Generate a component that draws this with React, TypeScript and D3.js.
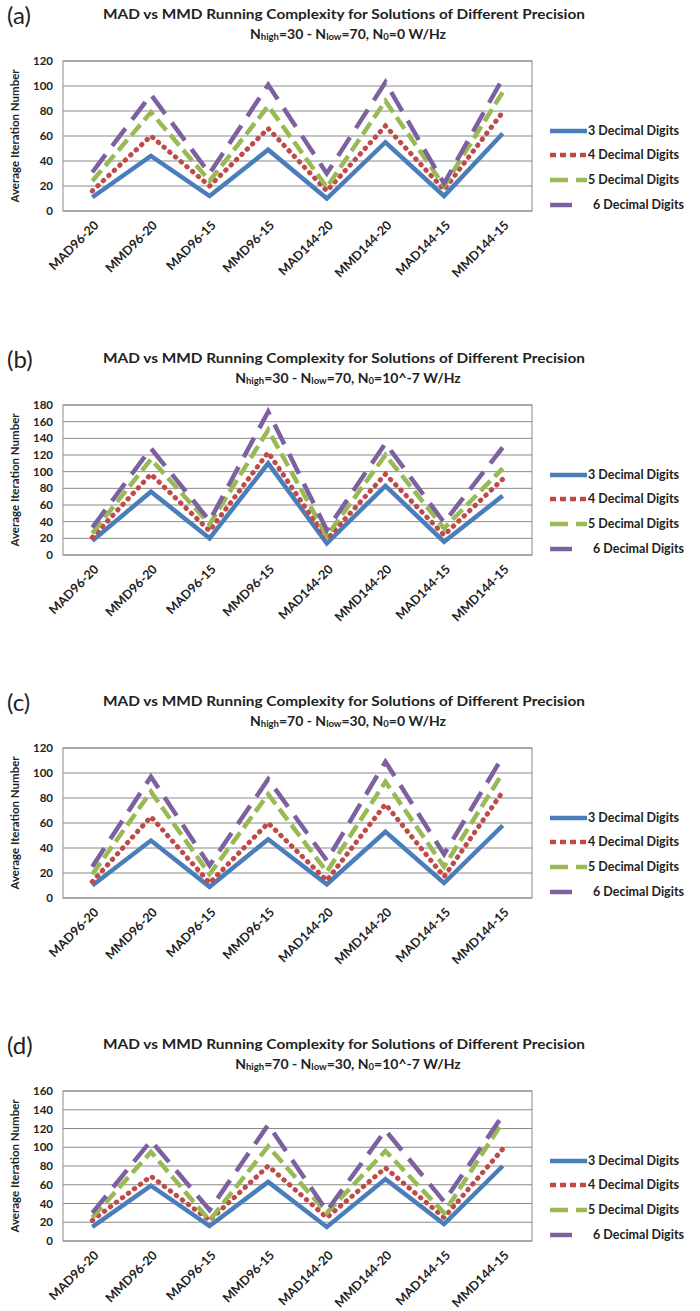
import React, { useRef, useEffect } from 'react';
import * as d3 from 'd3';

// x categories and legend names
const categories = ['MAD96-20', 'MMD96-20', 'MAD96-15', 'MMD96-15', 'MAD144-20', 'MMD144-20', 'MAD144-15', 'MMD144-15'];
const seriesNames = ['3 Decimal Digits', '4 Decimal Digits', '5 Decimal Digits', '6 Decimal Digits'];

// (a) Nhigh=30 - Nlow=70, N0=0
const a3 = [11, 44, 12, 49, 10, 55, 12, 62];
const a4 = [16, 60, 20, 66, 16, 68, 17, 79];
const a5 = [24, 79, 24, 84, 19, 88, 20, 95];
const a6 = [31, 93, 30, 101, 30, 103, 22, 106];

// (b) Nhigh=30 - Nlow=70, N0=10^-7
const b3 = [17, 76, 20, 110, 14, 83, 16, 71];
const b4 = [21, 97, 29, 123, 19, 97, 24, 91];
const b5 = [26, 115, 37, 150, 23, 120, 32, 104];
const b6 = [33, 128, 41, 172, 30, 134, 39, 129];

// (c) Nhigh=70 - Nlow=30, N0=0
const c3 = [10, 46, 9, 47, 11, 53, 12, 58];
const c4 = [13, 65, 12, 60, 14, 75, 17, 85];
const c5 = [19, 85, 19, 83, 21, 93, 25, 100];
const c6 = [25, 97, 26, 95, 30, 109, 35, 113];

// (d) Nhigh=70 - Nlow=30, N0=10^-7
const d3v = [15, 59, 16, 63, 15, 66, 18, 80];
const d4 = [22, 69, 22, 80, 25, 78, 25, 98];
const d5 = [25, 95, 22, 101, 30, 96, 30, 127];
const d6 = [30, 107, 33, 124, 32, 118, 42, 134];

const panelLetters = ['(a)', '(b)', '(c)', '(d)'];
const panelHigh = ['30', '30', '70', '70'];
const panelLow = ['70', '70', '30', '30'];
const panelN0 = ['0', '10^-7', '0', '10^-7'];
const panelMax = [120, 180, 120, 160];
const panelData = [[a3, a4, a5, a6], [b3, b4, b5, b6], [c3, c4, c5, c6], [d3v, d4, d5, d6]];

const colors = ['#4a7ebb', '#be4b48', '#98b954', '#7d60a0'];

const App = () => {
  const svgRef = useRef(null);

  useEffect(() => {
    const width = 700;
    const height = 1311;
    const panelTop = [0, 344, 687, 1030];
    const font = 'Lato, "Open Sans", sans-serif';

    const svg = d3.select(svgRef.current)
      .attr('width', width)
      .attr('height', height);

    svg.selectAll('*').remove();

    const lineStyles = [
      { dash: null, cap: 'butt', w: 4.5 },
      { dash: '0.5 7', cap: 'round', w: 5 },
      { dash: '14 6', cap: 'butt', w: 4.5 },
      { dash: '22 11', cap: 'butt', w: 4.5 }
    ];
    const legendDash = [null, '6 4', '18 8', '22 40'];

    panelData.forEach((series, p) => {
      const off = panelTop[p];
      const g = svg.append('g').attr('transform', `translate(0,${off})`);

      const x = d3.scalePoint()
        .domain(categories)
        .range([63, 532])
        .padding(0.5);

      const y = d3.scaleLinear()
        .domain([0, panelMax[p]])
        .range([211, 61]);

      // panel letter
      g.append('text')
        .attr('x', 7)
        .attr('y', 24)
        .attr('font-family', font)
        .attr('font-size', 24)
        .attr('fill', '#222')
        .text(panelLetters[p]);

      // title
      g.append('text')
        .attr('x', 344)
        .attr('y', 19)
        .attr('text-anchor', 'middle')
        .attr('font-family', font)
        .attr('font-weight', 'bold')
        .attr('font-size', 13.5)
        .attr('textLength', 482)
        .attr('lengthAdjust', 'spacingAndGlyphs')
        .attr('fill', '#222')
        .text('MAD vs MMD Running Complexity for Solutions of Different Precision');

      const sub = g.append('text')
        .attr('x', 348)
        .attr('y', 39)
        .attr('text-anchor', 'middle')
        .attr('font-family', font)
        .attr('font-weight', 'bold')
        .attr('font-size', 14)
        .attr('fill', '#222');
      sub.append('tspan').text('N');
      sub.append('tspan').attr('font-size', 9.5).attr('dy', 1).text('high');
      sub.append('tspan').attr('dy', -1).text(`=${panelHigh[p]} - N`);
      sub.append('tspan').attr('font-size', 9.5).attr('dy', 1).text('low');
      sub.append('tspan').attr('dy', -1).text(`=${panelLow[p]}, N`);
      sub.append('tspan').attr('font-size', 9.5).attr('dy', 1).text('0');
      sub.append('tspan').attr('dy', -1).text(`=${panelN0[p]} W/Hz`);

      // gridlines
      const ticks = d3.range(0, panelMax[p] + 1, 20);
      g.append('g')
        .selectAll('line')
        .data(ticks)
        .join('line')
        .attr('x1', 63)
        .attr('x2', 532)
        .attr('y1', d => y(d))
        .attr('y2', d => y(d))
        .attr('stroke', '#8a8a8a')
        .attr('stroke-width', 1);

      g.append('rect')
        .attr('x', 63)
        .attr('y', 61)
        .attr('width', 532 - 63)
        .attr('height', 150)
        .attr('fill', 'none')
        .attr('stroke', '#8a8a8a')
        .attr('stroke-width', 1);

      // y tick labels
      g.append('g')
        .selectAll('text')
        .data(ticks)
        .join('text')
        .attr('x', 53)
        .attr('y', d => y(d))
        .attr('dy', '0.35em')
        .attr('text-anchor', 'end')
        .attr('font-family', font)
        .attr('font-weight', 'bold')
        .attr('font-size', 11.5)
        .attr('fill', '#222')
        .text(d => d);

      // y axis title
      g.append('text')
        .attr('transform', `translate(19,136) rotate(-90)`)
        .attr('text-anchor', 'middle')
        .attr('font-family', font)
        .attr('font-weight', 'bold')
        .attr('font-size', 11.5)
        .attr('fill', '#222')
        .text('Average Iteration Number');

      // x labels
      g.append('g')
        .selectAll('text')
        .data(categories)
        .join('text')
        .attr('transform', d => `translate(${x(d) + 7},${226}) rotate(-45)`)
        .attr('text-anchor', 'end')
        .attr('font-family', font)
        .attr('font-weight', 'bold')
        .attr('font-size', 12.5)
        .attr('fill', '#222')
        .text(d => d);

      // lines
      const line = d3.line()
        .x((d, i) => x(categories[i]))
        .y(d => y(d));

      series.forEach((vals, s) => {
        g.append('path')
          .datum(vals)
          .attr('fill', 'none')
          .attr('stroke', colors[s])
          .attr('stroke-width', lineStyles[s].w)
          .attr('stroke-linecap', lineStyles[s].cap)
          .attr('stroke-linejoin', 'miter')
          .attr('stroke-dasharray', lineStyles[s].dash)
          .attr('d', line);
      });

      // legend
      const rows = [131, 155, 180, 205];
      seriesNames.forEach((name, s) => {
        g.append('line')
          .attr('x1', 550)
          .attr('x2', s === 3 ? 573 : 587)
          .attr('y1', rows[s])
          .attr('y2', rows[s])
          .attr('stroke', colors[s])
          .attr('stroke-width', 4.5)
          .attr('stroke-dasharray', legendDash[s]);
        g.append('text')
          .attr('x', s === 3 ? 593 : 588)
          .attr('y', rows[s])
          .attr('dy', '0.35em')
          .attr('font-family', font)
          .attr('font-weight', 'bold')
          .attr('font-size', 12.5)
          .attr('fill', '#222')
          .text(name);
      });
    });
  }, []);

  return (
    <svg ref={svgRef} style={{ position: 'absolute', left: 0, top: 0, background: '#fff' }}></svg>
  );
};

export default App;
